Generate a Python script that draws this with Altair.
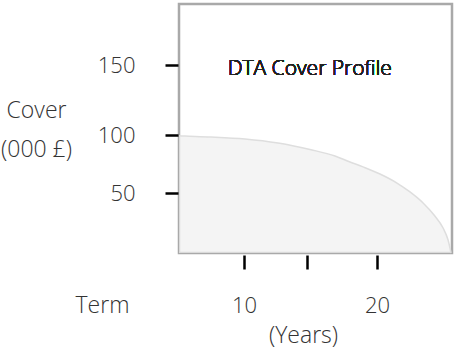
import altair as alt
import pandas as pd

# ---- data ----
term_years = [5, 5.46, 7.46, 10.08, 12.7, 15.29, 17.0, 18.07, 19.0, 20.22,
              21.48, 22.44, 23.41, 24.22, 24.89, 25.26, 25.48]
cover_000 = [99.3, 99.1, 98.3, 96.6, 93.1, 87.3, 81.9, 76.7, 72.5, 66.4,
             58.6, 50.9, 41.7, 31.7, 20.8, 10.8, 0]
y_ticks = [50, 100, 150]
x_ticks = [10, 15, 20]
inner_title = "DTA Cover Profile"
y_title = ["Cover", "(000 £)"]
x_title = "Term"
x_unit = "(Years)"

df = pd.DataFrame({"term": term_years, "cover": cover_000})

FONT = "Open Sans"
TXT = "#333333"
W = 300

x_scale = alt.Scale(domain=[5, 10, 15, 20, 25.55], range=[0, 65, 128, 198, 273],
                    nice=False, zero=False)
y_scale = alt.Scale(domain=[0, 50, 100, 150, 193.6], range=[249, 189, 131, 61, 0],
                    nice=False, zero=False)

x_axis = alt.Axis(
    values=x_ticks, labelExpr="datum.value == 15 ? '' : datum.label",
    grid=False, domain=False, tickSize=14, tickWidth=2.5, tickColor="black",
    offset=2, labelFont=FONT, labelFontSize=22, labelFontWeight=W, labelColor=TXT,
    labelBaseline="alphabetic", labelPadding=43, labelFlush=False, labelOverlap=False,
    title=x_title, titleX=-77, titleY=57, titleAlign="center",
    titleBaseline="alphabetic", titleFont=FONT, titleFontSize=23,
    titleFontWeight=W, titleColor=TXT,
)
y_axis = alt.Axis(
    values=y_ticks, grid=False, domain=False, tickSize=13, tickWidth=2.5,
    tickColor="black", offset=1, labelFont=FONT, labelFontSize=22,
    labelFontWeight=W, labelColor=TXT, labelPadding=30, labelBaseline="middle",
    labelFlush=False, labelOverlap=False,
    title=y_title, titleAngle=0, titleX=-142, titleY=113, titleAlign="center",
    titleBaseline="alphabetic", titleLineHeight=39, titleFont=FONT,
    titleFontSize=23, titleFontWeight=W, titleColor=TXT,
)

area = alt.Chart(df).mark_area(
    interpolate="monotone", color="#efefef",
    line={"color": "#dedede", "strokeWidth": 1.5},
).encode(
    x=alt.X("term:Q", scale=x_scale, axis=x_axis),
    y=alt.Y("cover:Q", scale=y_scale, axis=y_axis),
)

label = alt.Chart(df).mark_text(
    font=FONT, fontSize=21, fontWeight=W, color="#222222",
    baseline="alphabetic", align="center"
).encode(
    x=alt.datum(15.2),
    y=alt.datum(142.9),
    text=alt.value(inner_title),
)

chart = alt.layer(area, label).properties(
    width=273, height=249,
    padding={"left": 179, "top": 4, "right": 6, "bottom": 99},
    autosize=alt.AutoSizeParams(type="none"),
    title=alt.TitleParams(x_unit, orient="bottom", anchor="middle", frame="group",
                          font=FONT, fontSize=23, fontWeight=W, color=TXT,
                          offset=8, dx=-12),
    background="white",
).configure_view(stroke="#a9a9a9", strokeWidth=2.5)

chart.save("out.html", embed_options={"renderer": "svg", "actions": False})
